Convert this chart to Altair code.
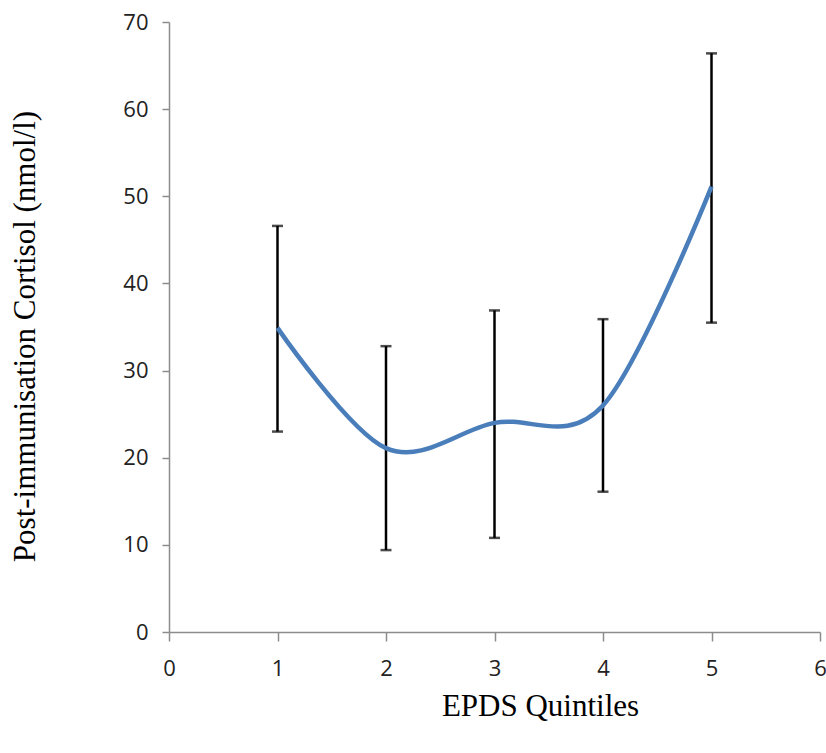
import altair as alt
import pandas as pd

quintile = [1, 2, 3, 4, 5]
cortisol_mean = [34.9, 21.1, 24.0, 26.0, 51.1]
cortisol_upper = [46.6, 32.8, 36.9, 35.9, 66.4]
cortisol_lower = [23.0, 9.4, 10.8, 16.1, 35.5]

df = pd.DataFrame({
    "q": quintile,
    "mean": cortisol_mean,
    "hi": cortisol_upper,
    "lo": cortisol_lower,
})

W, H = 651, 610
PL, PT = 169, 22

x_enc = alt.X(
    "q:Q",
    scale=alt.Scale(domain=[0, 6], nice=False, zero=False),
    axis=alt.Axis(
        title="EPDS Quintiles",
        values=[0, 1, 2, 3, 4, 5, 6],
        format="d",
        grid=False,
        labelFlush=False,
        domainColor="#8c8c8c",
        domainWidth=1.5,
        tickColor="#8c8c8c",
        tickWidth=1.5,
        tickSize=9,
        labelFont="Open Sans",
        labelFontSize=22,
        labelColor="#222222",
        labelPadding=17,
        titleFont="Liberation Serif",
        titleFontSize=31,
        titleFontWeight="normal",
        titleColor="#000000",
        titleX=371,
        titleY=74,
        titleBaseline="middle",
        titleAlign="center",
    ),
)

y_axis = alt.Axis(
    title="Post-immunisation Cortisol (nmol/l)",
    values=[0, 10, 20, 30, 40, 50, 60, 70],
    grid=False,
    labelFlush=False,
    domainColor="#8c8c8c",
    domainWidth=1.5,
    tickColor="#8c8c8c",
    tickWidth=1.5,
    tickSize=7,
    labelFont="Open Sans",
    labelFontSize=22,
    labelColor="#222222",
    labelPadding=14,
    titleFont="Liberation Serif",
    titleFontSize=31,
    titleFontWeight="normal",
    titleColor="#000000",
    titleAngle=-90,
    titleX=-144,
    titleY=314,
    titleBaseline="middle",
    titleAlign="center",
)
y_scale = alt.Scale(domain=[0, 70], nice=False)

base = alt.Chart(df)

bars = base.mark_rule(color="#000000", strokeWidth=2.5).encode(
    x=x_enc,
    y=alt.Y("lo:Q", scale=y_scale, axis=y_axis),
    y2="hi:Q",
)
cap_hi = base.mark_tick(color="#000000", orient="horizontal", size=11, thickness=2.5).encode(
    x="q:Q", y=alt.Y("hi:Q", scale=y_scale)
)
cap_lo = base.mark_tick(color="#000000", orient="horizontal", size=11, thickness=2.5).encode(
    x="q:Q", y=alt.Y("lo:Q", scale=y_scale)
)
line = base.mark_line(color="#4a7ebb", strokeWidth=4.5, interpolate="cardinal").encode(
    x="q:Q", y=alt.Y("mean:Q", scale=y_scale)
)

chart = (
    alt.layer(bars, cap_hi, cap_lo, line)
    .properties(
        width=W,
        height=H,
        autosize=alt.AutoSizeParams(type="none"),
        padding={"left": PL, "top": PT, "right": 826 - PL - W, "bottom": 753 - PT - H},
        background="#ffffff",
    )
    .configure_view(stroke=None)
)

chart.save("out.html", embed_options={"renderer": "svg", "actions": False})
